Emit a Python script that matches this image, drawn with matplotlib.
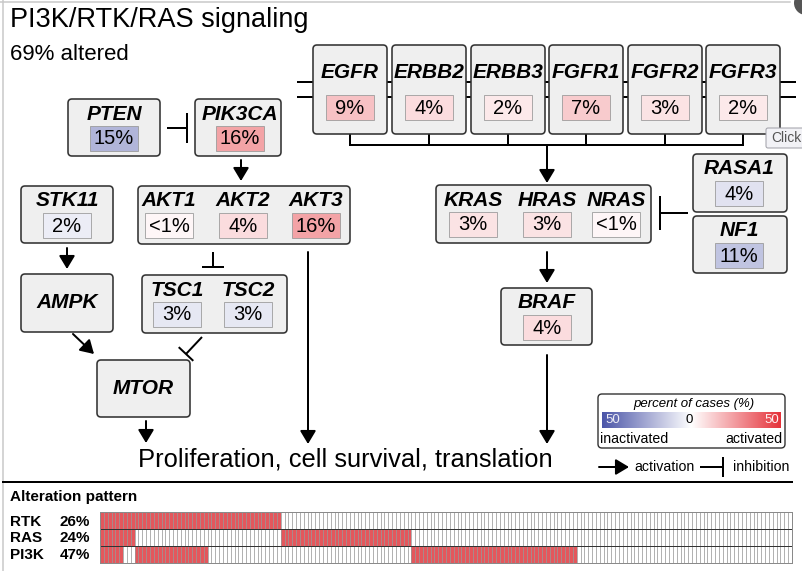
import numpy as np
import matplotlib
matplotlib.use("Agg")
import matplotlib.pyplot as plt
from matplotlib.patches import FancyBboxPatch, Rectangle, FancyArrowPatch, Circle
from matplotlib.colors import LinearSegmentedColormap, ListedColormap

plt.rcParams['font.family'] = ['Liberation Sans', 'DejaVu Sans']

# gene alteration frequencies, percent of cases ("<1%" kept as 0.5)
genes = ['PTEN', 'PIK3CA', 'STK11', 'AKT1', 'AKT2', 'AKT3', 'TSC1', 'TSC2',
         'EGFR', 'ERBB2', 'ERBB3', 'FGFR1', 'FGFR2', 'FGFR3',
         'KRAS', 'HRAS', 'NRAS', 'RASA1', 'NF1', 'BRAF']
pcts = [15, 16, 2, 0.5, 4, 16, 3, 3,
        9, 4, 2, 7, 3, 2,
        3, 3, 0.5, 4, 11, 4]
inactivated = ['PTEN', 'STK11', 'TSC1', 'TSC2', 'RASA1', 'NF1']
rtk_genes = ['EGFR', 'ERBB2', 'ERBB3', 'FGFR1', 'FGFR2', 'FGFR3']

# alteration pattern: column groups and which pathway is altered in them
pattern_rows = ['RTK', 'RAS', 'PI3K']
pattern_pcts = [26, 24, 47]
group_counts = [6, 3, 19, 19, 34, 43, 56]
group_rtk = [1, 1, 1, 1, 0, 0, 0]
group_ras = [1, 1, 0, 0, 1, 0, 0]
group_pi3k = [1, 0, 1, 0, 0, 1, 0]

pct = dict(zip(genes, pcts))

BLUE, RED = '#4b55a8', '#e5323a'
cmap = LinearSegmentedColormap.from_list('pc', [BLUE, 'white', RED])


def cell_color(g):
    t = (pct[g] / 50.0) ** 0.7
    s = -1 if g in inactivated else 1
    return cmap(0.5 + 0.5 * s * t)


W, H = 802, 571
fig = plt.figure(figsize=(W / 100, H / 100), dpi=100)
ax = fig.add_axes([0, 0, 1, 1])
ax.set_xlim(0, W)
ax.set_ylim(H, 0)
ax.axis('off')

PX = 0.72  # points per pixel
BOX_FC, EDGE = '#efefef', '#333333'


def node(x0, y0, x1, y1):
    ax.add_patch(FancyBboxPatch((x0, y0), x1 - x0, y1 - y0,
                                boxstyle='round,pad=0,rounding_size=4',
                                fc=BOX_FC, ec=EDGE, lw=1.6 * PX, zorder=3))


def gene(g, cx, ty, cy=None):
    ax.text(cx, ty, g, ha='center', va='center', fontsize=15,
            fontweight='bold', style='italic', zorder=5)
    if cy is not None:
        ax.add_patch(Rectangle((cx - 24, cy), 48, 25, fc=cell_color(g),
                               ec='#999999', lw=0.8 * PX, zorder=4))
        lab = '<1%' if pct[g] < 1 else f'{pct[g]:g}%'
        ax.text(cx, cy + 13, lab, ha='center', va='center', fontsize=14.5,
                zorder=5)


def arrow(x0, y0, x1, y1):
    ax.add_patch(FancyArrowPatch((x0, y0), (x1, y1),
                                 arrowstyle='-|>,head_length=0.5,head_width=0.3',
                                 mutation_scale=16, lw=2 * PX, color='black',
                                 shrinkA=0, shrinkB=0, zorder=2))


def inhibit(x0, y0, x1, y1, half):
    ax.plot([x0, x1], [y0, y1], color='black', lw=2 * PX, zorder=2,
            solid_capstyle='butt')
    d = np.array([x1 - x0, y1 - y0], float)
    n = np.array([-d[1], d[0]]) / np.hypot(*d) * half
    ax.plot([x1 - n[0], x1 + n[0]], [y1 - n[1], y1 + n[1]], color='black',
            lw=2 * PX, zorder=2, solid_capstyle='butt')


# layout: box rectangle and gene centres inside it
boxes = [
    ((68, 99, 160, 156), [('PTEN', 114)]),
    ((195, 99, 281, 156), [('PIK3CA', 240)]),
    ((21, 186, 113, 243), [('STK11', 67)]),
    ((138, 186, 350, 244), [('AKT1', 169), ('AKT2', 243), ('AKT3', 316)]),
    ((142, 275, 287, 333), [('TSC1', 177), ('TSC2', 248)]),
    ((436, 185, 651, 243), [('KRAS', 473), ('HRAS', 547), ('NRAS', 616)]),
    ((693, 154, 787, 212), [('RASA1', 739)]),
    ((693, 216, 787, 273), [('NF1', 739)]),
    ((501, 288, 592, 345), [('BRAF', 547)]),
]
for (x0, y0, x1, y1), members in boxes:
    node(x0, y0, x1, y1)
    for g, cx in members:
        gene(g, cx, y0 + 15, y0 + 27)

for name, (x0, y0, x1, y1) in [('AMPK', (21, 274, 113, 332)),
                               ('MTOR', (97, 360, 190, 417))]:
    node(x0, y0, x1, y1)
    gene(name, (x0 + x1) / 2, (y0 + y1) / 2)

# receptor tyrosine kinases in the membrane
rtk_left = [313, 392, 471, 549, 628, 706]
for y in (82, 97):
    ax.plot([298, 795], [y, y], color='black', lw=2 * PX, zorder=1)
for g, x0 in zip(rtk_genes, rtk_left):
    node(x0, 45, x0 + 74, 134)
    gene(g, x0 + 37, 73, 95)
    ax.plot([x0 + 37, x0 + 37], [134, 145], color='black', lw=2 * PX, zorder=2)
ax.plot([rtk_left[0] + 37, rtk_left[-1] + 37], [145, 145], color='black',
        lw=2 * PX, zorder=2)

# edges
inhibit(167, 128, 187, 128, 15)
inhibit(213, 252, 213, 267, 11)
inhibit(202, 337, 186, 354, 10)
inhibit(688, 213, 660, 213, 17)
arrow(241, 160, 241, 181)
arrow(67, 248, 67, 269)
arrow(73, 334, 94, 354)
arrow(146, 421, 146, 443)
arrow(308, 252, 308, 444)
arrow(547, 145, 547, 183)
arrow(547, 252, 547, 283)
arrow(547, 355, 547, 444)

ax.text(138, 459, 'Proliferation, cell survival, translation', ha='left',
        va='center', fontsize=18.4)

# title
ax.text(10, 20, 'PI3K/RTK/RAS signaling', ha='left', va='center', fontsize=19.5)
ax.text(10, 54, '69% altered', ha='left', va='center', fontsize=16)

# legend
ax.add_patch(FancyBboxPatch((598, 394), 187, 54,
                            boxstyle='round,pad=0,rounding_size=4',
                            fc='white', ec=EDGE, lw=1.4 * PX, zorder=3))
ax.text(694, 404, 'percent of cases (%)', ha='center', va='center',
        fontsize=9.5, style='italic', zorder=4)
grad = np.linspace(0, 1, 256)[None, :]
ax.imshow(grad, cmap=cmap, extent=(602, 781, 428, 412), aspect='auto',
          zorder=4)
ax.text(605, 420, '50', ha='left', va='center', fontsize=9.5, color='#eeeef6',
        zorder=5)
ax.text(689, 420, '0', ha='center', va='center', fontsize=9.5, zorder=5)
ax.text(779, 420, '50', ha='right', va='center', fontsize=9.5, color='#fff0f0',
        zorder=5)
ax.text(600, 439, 'inactivated', ha='left', va='center', fontsize=10.2, zorder=5)
ax.text(783, 439, 'activated', ha='right', va='center', fontsize=10.2, zorder=5)
arrow(599, 467, 629, 467)
ax.text(634, 467, 'activation', ha='left', va='center', fontsize=10.2)
inhibit(700, 467, 723, 467, 10)
ax.text(733, 467, 'inhibition', ha='left', va='center', fontsize=10.2)

# frame, separator, tooltip
ax.plot([3, 3], [0, H], color='#c8c8c8', lw=1.5 * PX)
ax.plot([0, 790], [1.5, 1.5], color='#c8c8c8', lw=1.5 * PX)
ax.plot([3, 792], [482, 482], color='black', lw=2 * PX)
ax.add_patch(Circle((806, 3), 12, fc='#555555', ec='none', zorder=6))
ax.add_patch(FancyBboxPatch((766, 128), 40, 20,
                            boxstyle='round,pad=0,rounding_size=2',
                            fc='#f2f2f6', ec='#a0a0a8', lw=1 * PX, zorder=6))
ax.text(771, 138, 'Click', ha='left', va='center', fontsize=10,
        color='#555555', zorder=7)

# alteration pattern
ax.text(10, 497, 'Alteration pattern', ha='left', va='center', fontsize=11,
        fontweight='bold')
for i, (r, p) in enumerate(zip(pattern_rows, pattern_pcts)):
    ax.text(10, 522 + 16.5 * i, r, ha='left', va='center', fontsize=11,
            fontweight='bold')
    ax.text(60, 522 + 16.5 * i, f'{p}%', ha='left', va='center', fontsize=11,
            fontweight='bold')

mat = np.array([np.repeat(group_rtk, group_counts),
                np.repeat(group_ras, group_counts),
                np.repeat(group_pi3k, group_counts)])
ncol = mat.shape[1]
gx = fig.add_axes([100 / W, (H - 563) / H, 692 / W, 51 / H])
gx.pcolormesh(np.arange(ncol + 1), np.arange(4), mat,
              cmap=ListedColormap(['white', '#e4575c']), vmin=0, vmax=1)
gx.set_xlim(0, ncol)
gx.set_ylim(3, 0)
gx.vlines(np.arange(1, ncol), 0, 3, color='#999999', lw=1 * PX, alpha=0.75)
gx.hlines([1, 2], 0, ncol, color='#333333', lw=1 * PX)
gx.set_xticks([])
gx.set_yticks([])
for s in gx.spines.values():
    s.set_color('#8a8a8a')
    s.set_linewidth(1 * PX)

fig.savefig('out.png', dpi=100)
